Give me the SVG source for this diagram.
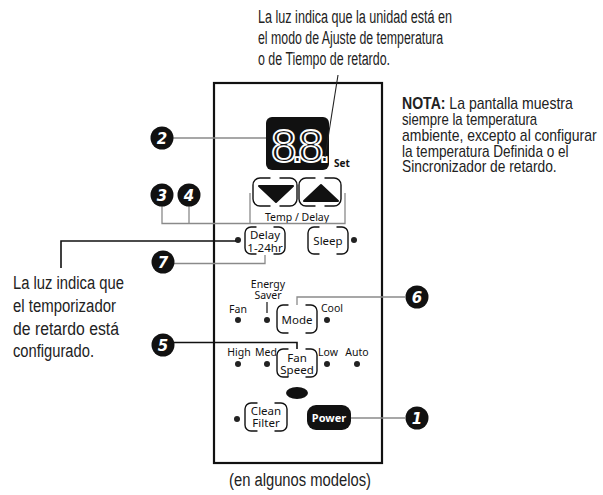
<svg xmlns="http://www.w3.org/2000/svg" width="603" height="495" viewBox="0 0 603 495">
<style>
.ann{font-family:"Liberation Sans",Arial,sans-serif;font-size:18px;fill:#222}
.nota{font-family:"Liberation Sans",Arial,sans-serif;font-size:16px;fill:#222}
.lbl{font-family:"Noto Sans","DejaVu Sans",sans-serif;font-size:10.5px;fill:#111;text-anchor:middle}
.btn{font-family:"Noto Sans","DejaVu Sans",sans-serif;font-size:11.5px;fill:#111;text-anchor:middle}
.brk{fill:none;stroke:#111;stroke-width:1.4;stroke-linecap:round}
.dot{fill:#222}
.seg{font-family:"Liberation Sans",Arial,sans-serif;font-size:46px;fill:none;stroke:#fff;stroke-width:1.8}
.num circle{fill:#111}
.num text{font-family:"DejaVu Sans",sans-serif;font-size:15px;font-weight:bold;font-style:italic;fill:#fff;text-anchor:middle}
.grey{fill:none;stroke:#8a8a8a;stroke-width:1.3}
.blk{fill:none;stroke:#111;stroke-width:1.6}
</style>
<rect width="603" height="495" fill="#fff"/>

<g id="panel">
<rect x="214" y="83" width="168" height="380" fill="none" stroke="#111" stroke-width="2.2"/>
</g>

<g id="display">
<rect x="266" y="117" width="63" height="53" rx="6" fill="#111"/>
<text class="seg" x="271 291 298 318" y="162">8.8.</text>
<text x="334" y="167" font-family="Noto Sans, DejaVu Sans, sans-serif" font-size="10" font-weight="bold" fill="#111">Set</text>
</g>

<g id="temp-down">
<path class="brk" d="M270,178 H260 A7 7 0 0 0 253,185 V199 A7 7 0 0 0 260,206 H270 M280,178 H290 A7 7 0 0 1 297,185 V199 A7 7 0 0 1 290,206 H280"/>
<path d="M259,186 L293,186 L276,202 Z" fill="#111" stroke="#111" stroke-width="2" stroke-linejoin="round"/>
</g>
<g id="temp-up">
<path class="brk" d="M315,178 H306 A7 7 0 0 0 299,185 V199 A7 7 0 0 0 306,206 H315 M325,178 H334 A7 7 0 0 1 341,185 V199 A7 7 0 0 1 334,206 H325"/>
<path d="M304,201 L338,201 L321,185 Z" fill="#111" stroke="#111" stroke-width="2" stroke-linejoin="round"/>
<text class="lbl" x="297" y="221" font-size="11">Temp / Delay</text>
</g>

<g id="delay">
<path class="brk" d="M256,227 H251 A6 6 0 0 0 245,233 V248 A6 6 0 0 0 251,254 H256 M274,227 H279 A6 6 0 0 1 285,233 V248 A6 6 0 0 1 279,254 H274"/>
<text class="btn" x="265" y="239">Delay<tspan x="265" dy="12.5">1-24hr</tspan></text>
<circle class="dot" cx="238" cy="240" r="3"/>
</g>

<g id="sleep">
<path class="brk" d="M319,227 H314 A6 6 0 0 0 308,233 V248 A6 6 0 0 0 314,254 H319 M337,227 H342 A6 6 0 0 1 348,233 V248 A6 6 0 0 1 342,254 H337"/>
<text class="btn" x="328" y="245" font-size="12.5">Sleep</text>
<circle class="dot" cx="354" cy="240" r="3"/>
</g>

<g id="mode">
<path class="brk" d="M288,305 H283 A6 6 0 0 0 277,311 V327 A6 6 0 0 0 283,333 H288 M306,305 H311 A6 6 0 0 1 317,311 V327 A6 6 0 0 1 311,333 H306"/>
<text class="btn" x="297" y="324" font-size="13">Mode</text>
<text class="lbl" x="238" y="313">Fan</text>
<circle class="dot" cx="238" cy="320" r="3"/>
<text class="lbl" x="268" y="288">Energy<tspan x="268" dy="11">Saver</tspan></text>
<line x1="267" y1="302" x2="267" y2="313" stroke="#111" stroke-width="1.2"/>
<circle class="dot" cx="267" cy="320" r="3"/>
<text class="lbl" x="332" y="312">Cool</text>
<circle class="dot" cx="327" cy="320" r="3"/>
</g>

<g id="fan-speed">
<path class="brk" d="M288,349 H283 A6 6 0 0 0 277,355 V371 A6 6 0 0 0 283,377 H288 M306,349 H311 A6 6 0 0 1 317,355 V371 A6 6 0 0 1 311,377 H306"/>
<text class="btn" x="297" y="362">Fan<tspan x="297" dy="12">Speed</tspan></text>
<text class="lbl" x="239" y="356">High</text>
<text class="lbl" x="266" y="356">Med</text>
<text class="lbl" x="328" y="356">Low</text>
<text class="lbl" x="357" y="356">Auto</text>
<circle class="dot" cx="238" cy="364" r="3"/>
<circle class="dot" cx="267" cy="364" r="3"/>
<circle class="dot" cx="327" cy="364" r="3"/>
<circle class="dot" cx="357" cy="364" r="3"/>
</g>

<g id="sensor">
<ellipse cx="297" cy="393" rx="11" ry="6" fill="#111"/>
</g>

<g id="clean-filter">
<path class="brk" d="M257,403 H251 A6 6 0 0 0 245,409 V425 A6 6 0 0 0 251,431 H257 M275,403 H281 A6 6 0 0 1 287,409 V425 A6 6 0 0 1 281,431 H275"/>
<text class="btn" x="266" y="415">Clean<tspan x="266" dy="12">Filter</tspan></text>
<circle class="dot" cx="237" cy="419" r="3"/>
</g>

<g id="power">
<rect x="307" y="405" width="44" height="25" rx="9" fill="#111"/>
<text x="329" y="421.5" font-family="Noto Sans, DejaVu Sans, sans-serif" font-size="11" font-weight="bold" fill="#fff" text-anchor="middle">Power</text>
</g>

<g id="connectors">
<line class="grey" x1="173" y1="138" x2="266" y2="138"/>
<polyline class="grey" points="162,206 162,223.5 345,223.5 345,193"/>
<line class="grey" x1="189" y1="206" x2="189" y2="223.5"/>
<line class="grey" x1="250" y1="193" x2="250" y2="223.5"/>
<polyline class="grey" points="174,263.5 265,263.5 265,255"/>
<polyline class="blk" points="61,268 61,241 236,241"/>
<polyline class="blk" points="174,342.5 297,342.5 297,349" stroke-width="1.3"/>
<polyline class="grey" points="405,297 297,297 297,305"/>
<line class="grey" x1="405" y1="418" x2="351" y2="418"/>
<line x1="338" y1="75" x2="325" y2="157" stroke="#222" stroke-width="1.1"/>
</g>

<g id="n2" class="num"><circle cx="162" cy="138" r="11.5"/><text x="162" y="143.5">2</text></g>
<g id="n3" class="num"><circle cx="162" cy="195" r="11.5"/><text x="162" y="200.5">3</text></g>
<g id="n4" class="num"><circle cx="189" cy="195" r="11.5"/><text x="189" y="200.5">4</text></g>
<g id="n7" class="num"><circle cx="163" cy="262" r="11.5"/><text x="163" y="267.5">7</text></g>
<g id="n5" class="num"><circle cx="163" cy="345" r="11.5"/><text x="163" y="350.5">5</text></g>
<g id="n6" class="num"><circle cx="417" cy="297" r="11.5"/><text x="417" y="302.5">6</text></g>
<g id="n1" class="num"><circle cx="417" cy="418" r="11.5"/><text x="417" y="423.5">1</text></g>

<g id="note-top">
<text class="ann" x="258" y="23" textLength="194" lengthAdjust="spacingAndGlyphs">La luz indica que la unidad está en</text>
<text class="ann" x="258" y="44" textLength="185" lengthAdjust="spacingAndGlyphs">el modo de Ajuste de temperatura</text>
<text class="ann" x="258" y="65" textLength="132" lengthAdjust="spacingAndGlyphs">o de Tiempo de retardo.</text>
</g>

<g id="note-left">
<text class="ann" x="13" y="289" textLength="111" lengthAdjust="spacingAndGlyphs">La luz indica que</text>
<text class="ann" x="13" y="312" textLength="103" lengthAdjust="spacingAndGlyphs">el temporizador</text>
<text class="ann" x="13" y="335" textLength="106" lengthAdjust="spacingAndGlyphs">de retardo está</text>
<text class="ann" x="13" y="357" textLength="81" lengthAdjust="spacingAndGlyphs">configurado.</text>
</g>

<g id="nota" transform="translate(402,0) scale(0.85,1)">
<text class="nota" x="0" y="109" textLength="201" lengthAdjust="spacingAndGlyphs"><tspan font-weight="bold">NOTA:</tspan> La pantalla muestra</text>
<text class="nota" x="0" y="125" textLength="159" lengthAdjust="spacingAndGlyphs">siempre la temperatura</text>
<text class="nota" x="0" y="141" textLength="229" lengthAdjust="spacingAndGlyphs">ambiente, excepto al configurar</text>
<text class="nota" x="0" y="157" textLength="196" lengthAdjust="spacingAndGlyphs">la temperatura Definida o el</text>
<text class="nota" x="0" y="172" textLength="182" lengthAdjust="spacingAndGlyphs">Sincronizador de retardo.</text>
</g>

<g id="caption">
<text class="ann" x="300" y="486" text-anchor="middle" textLength="142" lengthAdjust="spacingAndGlyphs">(en algunos modelos)</text>
</g>
</svg>
